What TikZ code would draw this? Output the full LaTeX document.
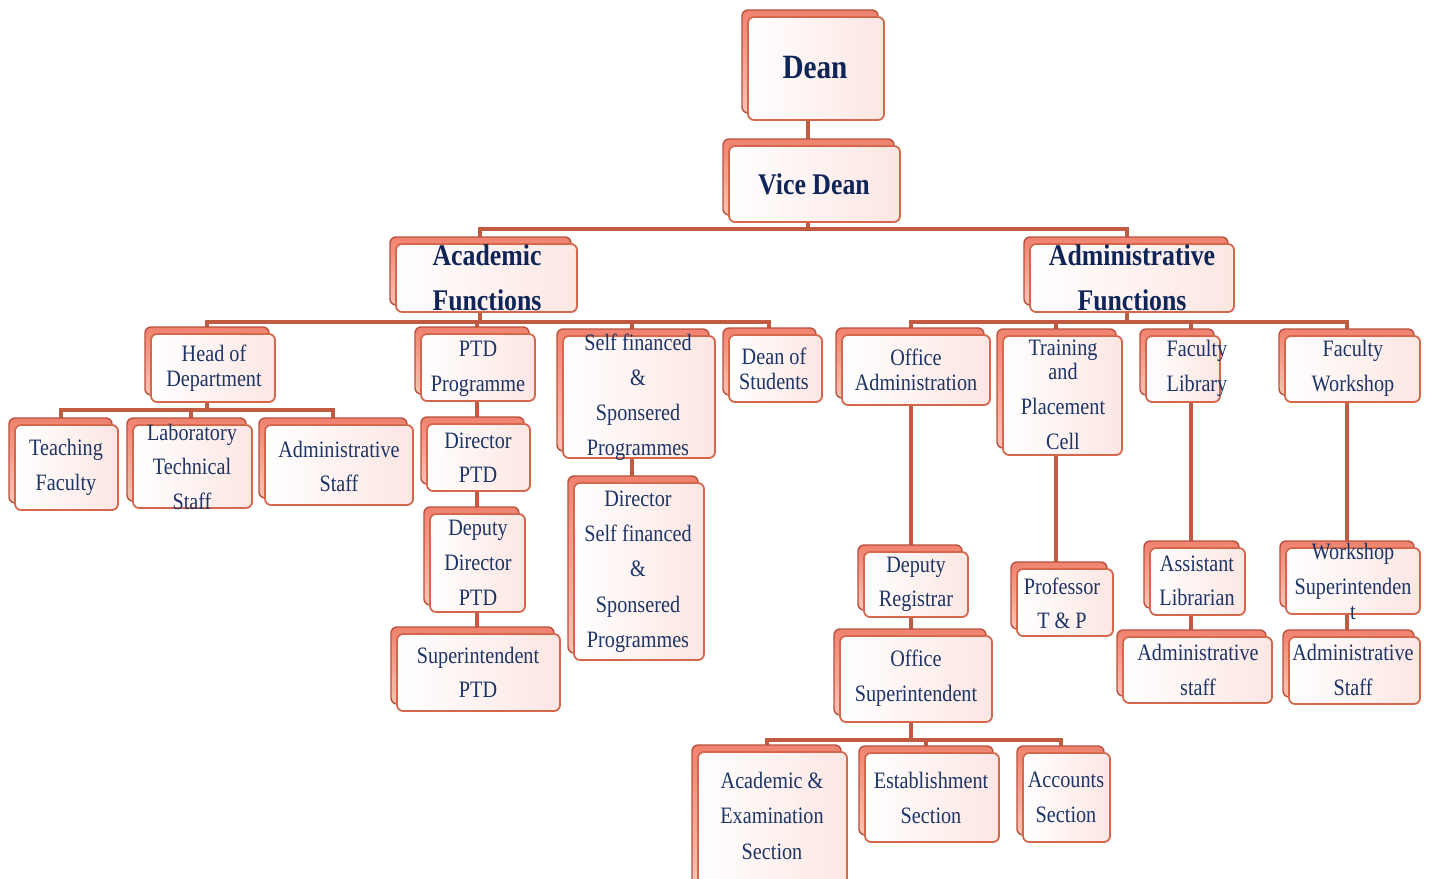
\documentclass[tikz,border=0pt]{standalone}
\usepackage{fontspec}
\setmainfont{Liberation Serif}[FakeStretch=0.86]
\pgfdeclarelayer{paper}
\pgfdeclarelayer{bg}
\pgfsetlayers{paper,bg,main}
\definecolor{bkA}{HTML}{F0826E}
\definecolor{bkB}{HTML}{FAC4B6}
\definecolor{bkEdge}{HTML}{B9503E}
\definecolor{frEdge}{HTML}{D5674C}
\definecolor{frPink}{HTML}{FCE6E2}
\definecolor{lineC}{HTML}{C05A40}
\definecolor{navy}{HTML}{1D3466}
\definecolor{navyB}{HTML}{0F2558}
\tikzset{
  backbox/.style={draw=bkEdge, line width=1.4pt, rounded corners=6pt, top color=bkA, bottom color=bkB, inner sep=0pt, outer sep=0pt},
  frontbox/.style={draw=frEdge, line width=1.8pt, rounded corners=6pt, left color=white, right color=frPink, inner sep=0pt, outer sep=0pt},
  lbl/.style={text=navy, align=center, inner sep=0pt},
  blbl/.style={text=navyB, align=center, inner sep=0pt},
  conn/.style={draw=lineC, line width=3.2pt},
}
\newcommand\obox[5]{%
  \node[backbox, minimum width={(#4-#2)*1pt}, minimum height={(#5-#3)*1pt}] (#1-b) at ({(#2+#4)/2-6},{(#3+#5)/2-7}) {};
  \node[frontbox, minimum width={(#4-#2)*1pt}, minimum height={(#5-#3)*1pt}] (#1) at ({(#2+#4)/2},{(#3+#5)/2}) {};
}
\newcommand\otext[6]{%
  \node[lbl, font={\fontsize{#4}{#5}\selectfont}] (#1-t) at (#2,#3) {#6};
}
\newcommand\btext[6]{%
  \node[blbl, font={\fontsize{#4}{#5}\selectfont\bfseries}] (#1-t) at (#2,#3) {#6};
}
\begin{document}
\begin{tikzpicture}[x=1pt,y=-1pt]
\clip (0,0) rectangle (1429,878);
\begin{pgfonlayer}{paper}
\fill[white] (0,0) rectangle (1429,878);
\end{pgfonlayer}
% boxes
\obox{dean}{748}{17}{884}{120}
\obox{vd}{729}{146}{900}{222}
\obox{acad}{396}{244}{577}{312}
\obox{admin}{1030}{244}{1234}{312}
\obox{hod}{151}{334}{275}{402}
\obox{tf}{15}{425}{118}{510}
\obox{lab}{133}{425}{252}{508}
\obox{as}{265}{425}{413}{505}
\obox{ptd}{421}{334}{535}{401}
\obox{dptd}{427}{424}{530}{491}
\obox{ddptd}{430}{514}{525}{612}
\obox{sptd}{397}{634}{560}{711}
\obox{sf}{563}{336}{715}{458}
\obox{dsf}{574}{483}{704}{660}
\obox{dos}{729}{335}{822}{402}
\obox{oa}{842}{335}{990}{405}
\obox{tp}{1003}{336}{1122}{455}
\obox{fl}{1146}{336}{1220}{402}
\obox{fw}{1285}{336}{1420}{402}
\obox{dr}{864}{552}{968}{617}
\obox{pr}{1017}{569}{1113}{636}
\obox{al}{1150}{548}{1245}{615}
\obox{ws}{1286}{548}{1420}{614}
\obox{os}{840}{636}{992}{722}
\obox{asl}{1123}{637}{1272}{703}
\obox{asw}{1289}{637}{1420}{704}
\obox{ae}{698}{752}{847}{892}
\obox{est}{865}{753}{999}{842}
\obox{acc}{1023}{753}{1110}{842}
% texts
\btext{dean}{815}{68}{34}{40}{Dean}
\btext{vd}{814}{184}{30}{36}{Vice Dean}
\btext{acad}{487}{277.5}{30}{45}{Academic\\Functions}
\btext{admin}{1132}{277.5}{30}{45}{Administrative\\Functions}
\otext{hod}{214}{368.5}{23.5}{25}{Head of\\Department}
\otext{tf}{66}{467.5}{23.5}{35}{Teaching\\Faculty}
\otext{lab}{192}{466.5}{23.5}{34.5}{Laboratory\\Technical\\Staff}
\otext{as}{339}{466}{23.5}{34}{Administrative\\Staff}
\otext{ptd}{478}{368.5}{23.5}{35}{PTD\\Programme}
\otext{dptd}{478}{458}{23.5}{34}{Director\\PTD}
\otext{ddptd}{478}{563}{23.5}{35}{Deputy\\Director\\PTD}
\otext{sptd}{478}{672}{23.5}{34}{Superintendent\\PTD}
\otext{sf}{638}{397.5}{23.5}{35}{Self financed\\\&\\Sponsered\\Programmes}
\otext{dsf}{638}{571.5}{23.5}{35.25}{Director\\Self financed\\\&\\Sponsered\\Programmes}
\otext{dos}{774}{368.5}{23.5}{25}{Dean of\\Students}
\otext{oa}{916}{369.5}{23.5}{25}{Office\\Administration}
\otext{tp}{1063}{395}{23.5}{35}{Training\\[-11pt]and\\Placement\\Cell}
\otext{fl}{1197}{368.5}{23.5}{35}{Faculty\\Library}
\otext{fw}{1353}{368.5}{23.5}{35}{Faculty\\Workshop}
\otext{dr}{916}{584}{23.5}{34}{Deputy\\Registrar}
\otext{pr}{1062}{603}{23.5}{34}{Professor\\T \& P}
\otext{al}{1197}{581}{23.5}{34}{Assistant\\Librarian}
\otext{ws}{1353}{581}{23.5}{35}{Workshop\\Superintenden\\[-10pt]t}
\otext{os}{916}{678.5}{23.5}{35}{Office\\Superintendent}
\otext{asl}{1198}{669.5}{23.5}{35}{Administrative\\staff}
\otext{asw}{1353}{669.5}{23.5}{35}{Administrative\\Staff}
\otext{ae}{772}{815.5}{23.5}{35.5}{Academic \&\\Examination\\Section}
\otext{est}{931}{797.5}{23.5}{35}{Establishment\\Section}
\otext{acc}{1066}{797.5}{23.5}{35}{Accounts\\Section}
% connector helper coordinates
\coordinate (X808) at (808,0);
\coordinate (X480) at (480,0);
\coordinate (X1127) at (1127,0);
\coordinate (X207) at (207,0);
\coordinate (X477) at (477,0);
\coordinate (X632) at (632,0);
\coordinate (X769) at (769,0);
\coordinate (X911) at (911,0);
\coordinate (X1056) at (1056,0);
\coordinate (X1191) at (1191,0);
\coordinate (X1347) at (1347,0);
\coordinate (X61) at (61,0);
\coordinate (X191) at (191,0);
\coordinate (X333) at (333,0);
\coordinate (X767) at (767,0);
\coordinate (X926) at (926,0);
\coordinate (X1061) at (1061,0);
\coordinate (B1) at (808,229);
\coordinate (B2a) at (480,322);
\coordinate (B2b) at (1127,322);
\coordinate (B3) at (207,410);
\coordinate (B4) at (911,740);
\begin{pgfonlayer}{bg}
\draw[conn] (X808 |- dean.south) -- (X808 |- vd-b.north);
\draw[conn] (X808 |- vd.south) -- (B1);
\draw[conn] (X480 |- acad-b.north) |- (B1) -| (X1127 |- admin-b.north);
\draw[conn] (X480 |- acad.south) -- (B2a);
\draw[conn] (X207 |- hod-b.north) |- (B2a) -| (X769 |- dos-b.north);
\draw[conn] (B2a -| X477) -- (X477 |- ptd-b.north);
\draw[conn] (B2a -| X632) -- (X632 |- sf-b.north);
\draw[conn] (X1127 |- admin.south) -- (B2b);
\draw[conn] (X911 |- oa-b.north) |- (B2b) -| (X1347 |- fw-b.north);
\draw[conn] (B2b -| X1056) -- (X1056 |- tp-b.north);
\draw[conn] (B2b -| X1191) -- (X1191 |- fl-b.north);
\draw[conn] (X207 |- hod.south) -- (B3);
\draw[conn] (X61 |- tf-b.north) |- (B3) -| (X333 |- as-b.north);
\draw[conn] (B3 -| X191) -- (X191 |- lab-b.north);
\draw[conn] (X477 |- ptd.south) -- (X477 |- sptd-b.north);
\draw[conn] (X632 |- sf.south) -- (X632 |- dsf-b.north);
\draw[conn] (X911 |- oa.south) -- (X911 |- os-b.north);
\draw[conn] (X911 |- os.south) -- (B4);
\draw[conn] (X767 |- ae-b.north) |- (B4) -| (X1061 |- acc-b.north);
\draw[conn] (B4 -| X926) -- (X926 |- est-b.north);
\draw[conn] (X1056 |- tp.south) -- (X1056 |- pr-b.north);
\draw[conn] (X1191 |- fl.south) -- (X1191 |- asl-b.north);
\draw[conn] (X1347 |- fw.south) -- (X1347 |- asw-b.north);
\end{pgfonlayer}
\end{tikzpicture}
\end{document}
